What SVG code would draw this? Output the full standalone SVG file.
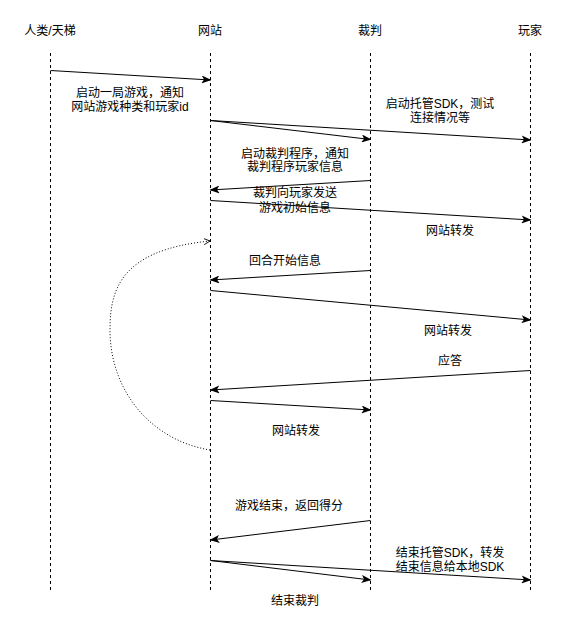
<svg xmlns="http://www.w3.org/2000/svg" width="571" height="632" viewBox="0 0 571 632">
<style>
text{font-family:"Liberation Sans","Noto Sans CJK SC",sans-serif;font-size:12px;fill:#000;text-anchor:middle;dominant-baseline:central}
.life{stroke:#000;stroke-width:1;stroke-dasharray:3 3;fill:none}
.msg{stroke:#000;stroke-width:1;fill:none;marker-end:url(#arr)}
.loop{stroke:#000;stroke-width:1;stroke-dasharray:1 2;fill:none;marker-end:url(#open)}
</style>
<defs>
<marker id="arr" viewBox="0 0 10 8" refX="9" refY="4" markerWidth="10" markerHeight="8" markerUnits="userSpaceOnUse" orient="auto">
<path d="M0,0 L10,4 L0,8 L2.5,4 Z" fill="#000"/>
</marker>
<marker id="open" viewBox="0 0 8 8" refX="7" refY="4" markerWidth="7" markerHeight="7" markerUnits="userSpaceOnUse" orient="auto">
<path d="M0,0.5 L7,4 L0,7.5" fill="none" stroke="#000" stroke-width="1"/>
</marker>
</defs>
<g id="actor-human">
<text x="50" y="31">人类/天梯</text>
<line class="life" x1="50.5" y1="53" x2="50.5" y2="590"/>
</g>
<g id="actor-site">
<text x="210" y="31">网站</text>
<line class="life" x1="210.5" y1="53" x2="210.5" y2="590"/>
</g>
<g id="actor-judge">
<text x="370" y="31">裁判</text>
<line class="life" x1="370.5" y1="53" x2="370.5" y2="590"/>
</g>
<g id="actor-player">
<text x="530" y="31">玩家</text>
<line class="life" x1="530.5" y1="53" x2="530.5" y2="590"/>
</g>
<g id="connectors">
<line class="msg" x1="50.5" y1="70.5" x2="210.5" y2="80"/>
<line class="msg" x1="210.5" y1="120.5" x2="370.5" y2="139.5"/>
<line class="msg" x1="210.5" y1="120.5" x2="530.5" y2="140"/>
<line class="msg" x1="370.5" y1="180.5" x2="210.5" y2="190"/>
<line class="msg" x1="210.5" y1="200.5" x2="530.5" y2="220"/>
<line class="msg" x1="370.5" y1="270.5" x2="210.5" y2="280"/>
<line class="msg" x1="210.5" y1="290.5" x2="530.5" y2="320"/>
<line class="msg" x1="530.5" y1="370.5" x2="210.5" y2="390"/>
<line class="msg" x1="210.5" y1="400.5" x2="370.5" y2="410"/>
<line class="msg" x1="370.5" y1="520.5" x2="210.5" y2="540"/>
<line class="msg" x1="210.5" y1="560.5" x2="370.5" y2="580"/>
<line class="msg" x1="210.5" y1="560.5" x2="530.5" y2="580"/>
<path class="loop" d="M210,450 C150,440 110,390 110,330 C110,290 120,250 210,241"/>
</g>
<g id="labels">
<text x="130" y="93">启动一局游戏，通知</text>
<text x="130" y="107">网站游戏种类和玩家id</text>
<text x="440" y="104">启动托管SDK，测试</text>
<text x="440" y="118">连接情况等</text>
<text x="295" y="154">启动裁判程序，通知</text>
<text x="295" y="167">裁判程序玩家信息</text>
<text x="295" y="193">裁判向玩家发送</text>
<text x="295" y="208">游戏初始信息</text>
<text x="450" y="231">网站转发</text>
<text x="285" y="261">回合开始信息</text>
<text x="448" y="331">网站转发</text>
<text x="450" y="361">应答</text>
<text x="296" y="431">网站转发</text>
<text x="289" y="506">游戏结束，返回得分</text>
<text x="450" y="553">结束托管SDK，转发</text>
<text x="450" y="567">结束信息给本地SDK</text>
<text x="295" y="601">结束裁判</text>
</g>
</svg>
